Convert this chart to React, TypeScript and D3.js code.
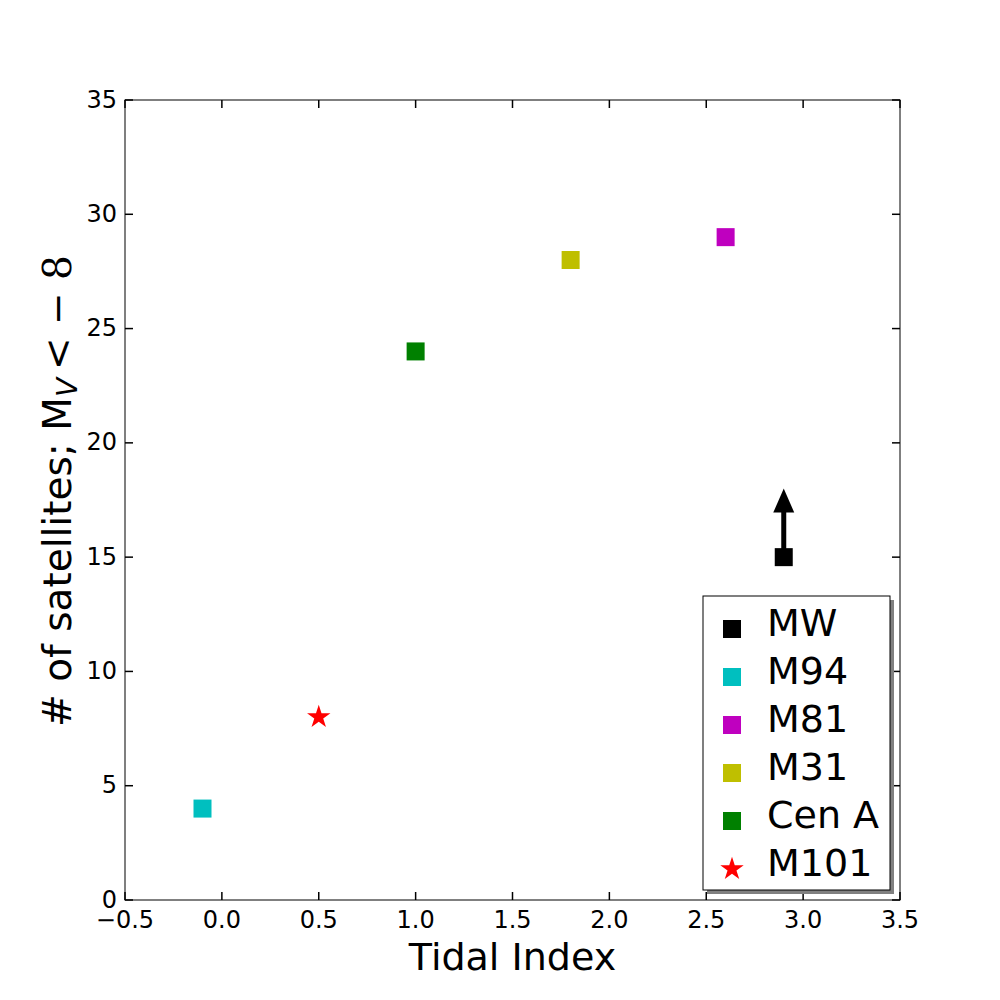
import React from 'react'
import * as d3 from 'd3'

// satellite counts vs tidal index for nearby hosts
const hosts = ['MW', 'M94', 'M81', 'M31', 'Cen A', 'M101']
const tidalIndex = [2.9, -0.1, 2.6, 1.8, 1.0, 0.5]
const satellites = [15, 4, 29, 28, 24, 8]
const colors = ['#000000', '#00bfbf', '#bf00bf', '#bfbf00', '#008000', '#ff0000']
const markers = ['square', 'square', 'square', 'square', 'square', 'star']

// MW count is a lower limit: arrow from 15 up to 18
const limitFrom = 15
const limitTo = 18

const xTicks = [-0.5, 0.0, 0.5, 1.0, 1.5, 2.0, 2.5, 3.0, 3.5]
const yTicks = [0, 5, 10, 15, 20, 25, 30, 35]

const margin = { top: 100, right: 100, bottom: 100, left: 125 }
const W = 1000
const H = 1000

const x = d3.scaleLinear().domain([-0.5, 3.5]).range([margin.left, W - margin.right])
const y = d3.scaleLinear().domain([0, 35]).range([H - margin.bottom, margin.top])

const font = 'DejaVu Sans, sans-serif'
const tickLen = 8

const Marker = ({ kind, cx, cy, color }: { kind: string; cx: number; cy: number; color: string }) => {
  if (kind === 'star') {
    const path = d3.symbol().type(d3.symbolStar).size(170)()
    return <path d={path || ''} transform={`translate(${cx},${cy})`} fill={color} />
  }
  const s = 18
  return <rect x={cx - s / 2} y={cy - s / 2} width={s} height={s} fill={color} />
}

const App = () => {
  const x0 = margin.left
  const x1 = W - margin.right
  const y0 = H - margin.bottom
  const y1 = margin.top

  // arrow geometry
  const ax = x(2.9)
  const tip = y(limitTo)
  const tail = y(limitFrom)
  const headLen = 24
  const headW = 21
  const shaftW = 5

  // legend box
  const lg = { x: 703, y: 596, w: 187, h: 294 }
  const rowH = 48

  return (
    <svg width={W} height={H} style={{ position: 'absolute', left: 0, top: 0, background: '#fff' }}>
      <rect x={0} y={0} width={W} height={H} fill='#fff' />

      {/* arrow for lower limit */}
      <rect x={ax - shaftW / 2} y={tip + headLen - 1} width={shaftW} height={tail - tip - headLen + 1} fill='#000' />
      <path d={`M${ax},${tip} L${ax + headW / 2},${tip + headLen} L${ax - headW / 2},${tip + headLen} Z`} fill='#000' />

      {/* data points */}
      {hosts.map((h, i) => (
        <Marker key={h} kind={markers[i]} cx={x(tidalIndex[i])} cy={y(satellites[i])} color={colors[i]} />
      ))}

      {/* frame */}
      <rect x={x0} y={y1} width={x1 - x0} height={y0 - y1} fill='none' stroke='#000' strokeWidth={1} />

      {/* x ticks, bottom and top, pointing in */}
      {xTicks.map(t => (
        <g key={`x${t}`}>
          <line x1={x(t)} x2={x(t)} y1={y0} y2={y0 - tickLen} stroke='#000' strokeWidth={1.5} />
          <line x1={x(t)} x2={x(t)} y1={y1} y2={y1 + tickLen} stroke='#000' strokeWidth={1.5} />
          <text x={x(t)} y={928} textAnchor='middle' fontFamily={font} fontSize={24}>
            {d3.format('.1f')(t).replace('-', '\u2212')}
          </text>
        </g>
      ))}

      {/* y ticks, left and right */}
      {yTicks.map(t => (
        <g key={`y${t}`}>
          <line x1={x0} x2={x0 + tickLen} y1={y(t)} y2={y(t)} stroke='#000' strokeWidth={1.5} />
          <line x1={x1} x2={x1 - tickLen} y1={y(t)} y2={y(t)} stroke='#000' strokeWidth={1.5} />
          <text x={117} y={y(t) + 7.5} textAnchor='end' fontFamily={font} fontSize={24}>
            {t}
          </text>
        </g>
      ))}

      {/* axis labels */}
      <text x={(x0 + x1) / 2} y={970} textAnchor='middle' fontFamily={font} fontSize={38}>
        Tidal Index
      </text>
      <text
        transform={`translate(71, 491) rotate(-90)`}
        textAnchor='middle'
        fontFamily={font}
        fontSize={39}
      >
        # of satellites; M
        <tspan fontSize={28} fontStyle='italic' dy={6}>V</tspan>
        <tspan dy={-6} fontFamily='DejaVu Serif, serif'>{'\u2009< \u2212 8'}</tspan>
      </text>

      {/* legend with drop shadow */}
      <rect x={lg.x + 4} y={lg.y + 4} width={lg.w} height={lg.h} fill='#808080' />
      <rect x={lg.x} y={lg.y} width={lg.w} height={lg.h} fill='#fff' stroke='#000' strokeWidth={1} />
      {hosts.map((h, i) => (
        <g key={`lg${h}`}>
          <Marker kind={markers[i]} cx={732} cy={629 + i * rowH} color={colors[i]} />
          <text x={767} y={636 + i * rowH} fontFamily={font} fontSize={38}>
            {h}
          </text>
        </g>
      ))}
    </svg>
  )
}

export default App
